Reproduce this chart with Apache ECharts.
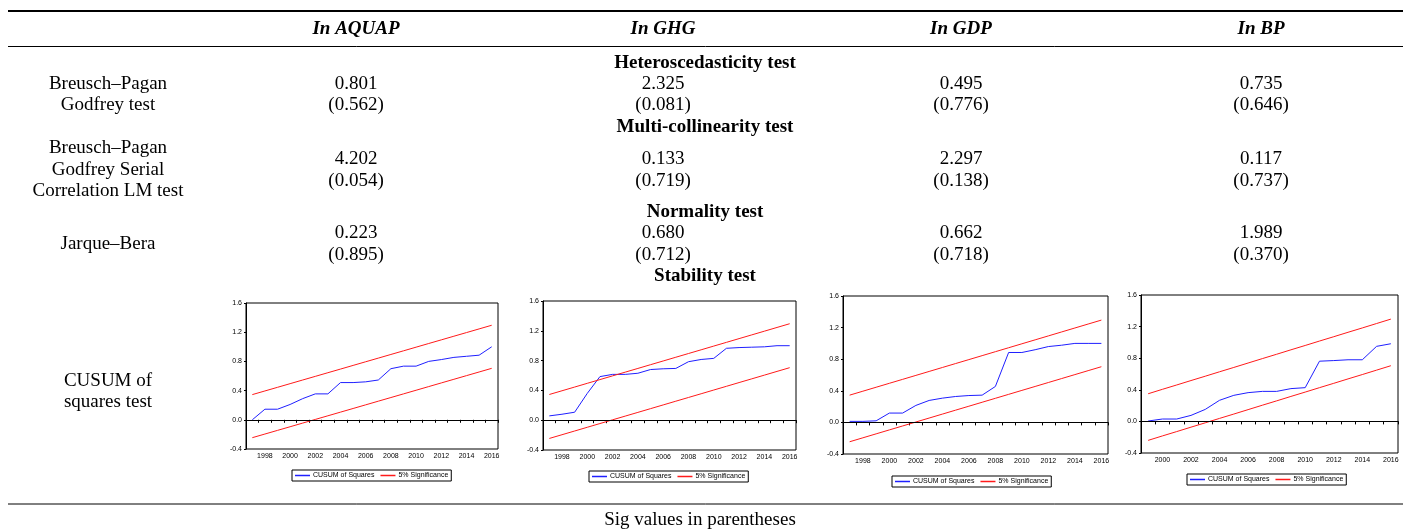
<!DOCTYPE html>
<html>
<head>
<meta charset="utf-8">
<script src="https://cdn.jsdelivr.net/npm/echarts@6/dist/echarts.min.js"></script>
<style>
  html, body { margin: 0; padding: 0; background: #fff; }
  #main { width: 1408px; height: 531px; }
</style>
</head>
<body>
<div id="main"></div>
<script>
// years on the x axis
const years97 = ['1997', '1998', '1999', '2000', '2001', '2002', '2003', '2004', '2005', '2006',
  '2007', '2008', '2009', '2010', '2011', '2012', '2013', '2014', '2015', '2016']
const years99 = ['1999', '2000', '2001', '2002', '2003', '2004', '2005', '2006', '2007', '2008',
  '2009', '2010', '2011', '2012', '2013', '2014', '2015', '2016']

// CUSUM of squares
const cusumAQUAP = [0.0, 0.145, 0.145, 0.21, 0.29, 0.355, 0.355, 0.51, 0.51, 0.52,
  0.545, 0.70, 0.735, 0.735, 0.80, 0.825, 0.855, 0.87, 0.885, 1.0]
const cusumGHG = [0.058, 0.08, 0.107, 0.36, 0.585, 0.615, 0.615, 0.63, 0.68, 0.69,
  0.695, 0.785, 0.815, 0.83, 0.965, 0.975, 0.98, 0.985, 1.0, 1.0]
const cusumGDP = [0.013, 0.013, 0.02, 0.118, 0.118, 0.215, 0.278, 0.307, 0.328, 0.34,
  0.345, 0.455, 0.885, 0.885, 0.92, 0.96, 0.977, 1.0, 1.0, 1.0]
const cusumBP = [0.005, 0.03, 0.03, 0.076, 0.152, 0.267, 0.33, 0.364, 0.38, 0.38,
  0.415, 0.427, 0.762, 0.77, 0.78, 0.78, 0.95, 0.983]

// 5% significance bands
const upper20 = [0.345, 0.395, 0.445, 0.495, 0.545, 0.595, 0.645, 0.695, 0.745, 0.795,
  0.845, 0.895, 0.945, 0.995, 1.045, 1.095, 1.145, 1.195, 1.245, 1.295]
const lower20 = [-0.245, -0.195, -0.145, -0.095, -0.045, 0.005, 0.055, 0.105, 0.155, 0.205,
  0.255, 0.305, 0.355, 0.405, 0.455, 0.505, 0.555, 0.605, 0.655, 0.705]
const upper18 = [0.35, 0.406, 0.461, 0.517, 0.572, 0.628, 0.683, 0.739, 0.795, 0.85,
  0.906, 0.961, 1.017, 1.072, 1.128, 1.183, 1.239, 1.295]
const lower18 = [-0.24, -0.184, -0.129, -0.073, -0.018, 0.038, 0.093, 0.149, 0.205, 0.26,
  0.316, 0.371, 0.427, 0.482, 0.538, 0.593, 0.649, 0.705]

// table text
const colNames = ['In AQUAP', 'In GHG', 'In GDP', 'In BP']
const heteroVals = ['0.801', '2.325', '0.495', '0.735']
const heteroSig = ['(0.562)', '(0.081)', '(0.776)', '(0.646)']
const serialVals = ['4.202', '0.133', '2.297', '0.117']
const serialSig = ['(0.054)', '(0.719)', '(0.138)', '(0.737)']
const normVals = ['0.223', '0.680', '0.662', '1.989']
const normSig = ['(0.895)', '(0.712)', '(0.718)', '(0.370)']

const colX = [356, 663, 961, 1261]
const SERIF = '"Liberation Serif", "Times New Roman", serif'
const SANS = '"Liberation Sans", Arial, sans-serif'

const boxes = [
  { left: 246, top: 303, width: 252, height: 146, legendLeft: 292, legendTop: 470 },
  { left: 543, top: 301, width: 253, height: 149, legendLeft: 589, legendTop: 471 },
  { left: 843, top: 296, width: 265, height: 158, legendLeft: 892, legendTop: 476 },
  { left: 1141, top: 295, width: 257, height: 158, legendLeft: 1187, legendTop: 474 }
]
const xData = [years97, years97, years97, years99]
const blueData = [cusumAQUAP, cusumGHG, cusumGDP, cusumBP]
const upData = [upper20, upper20, upper20, upper18]
const lowData = [lower20, lower20, lower20, lower18]

function txt(text, x, y, font, align) {
  return {
    type: 'text',
    x: x,
    y: y,
    style: {
      text: text,
      font: font,
      fill: '#000',
      textAlign: align || 'center',
      textVerticalAlign: 'middle'
    }
  }
}
function hline(x1, x2, y, w) {
  return {
    type: 'line',
    shape: { x1: x1, y1: y, x2: x2, y2: y },
    style: { stroke: '#000', lineWidth: w }
  }
}

const graphics = []
graphics.push(hline(8, 1403, 11, 2))
graphics.push(hline(8, 1403, 46.5, 1))
graphics.push(hline(8, 1403, 504, 1))

const F = '19px ' + SERIF
const FB = 'bold 19px ' + SERIF
colNames.forEach((n, i) => graphics.push(txt(n, colX[i], 29, 'italic bold 19px ' + SERIF)))

graphics.push(txt('Heteroscedasticity test', 705, 63, FB))
graphics.push(txt('Breusch\u2013Pagan', 108, 84, F))
graphics.push(txt('Godfrey test', 108, 105, F))
heteroVals.forEach((v, i) => graphics.push(txt(v, colX[i], 84, F)))
heteroSig.forEach((v, i) => graphics.push(txt(v, colX[i], 105, F)))

graphics.push(txt('Multi-collinearity test', 705, 127, FB))
graphics.push(txt('Breusch\u2013Pagan', 108, 148, F))
graphics.push(txt('Godfrey Serial', 108, 170, F))
graphics.push(txt('Correlation LM test', 108, 191, F))
serialVals.forEach((v, i) => graphics.push(txt(v, colX[i], 159, F)))
serialSig.forEach((v, i) => graphics.push(txt(v, colX[i], 181, F)))

graphics.push(txt('Normality test', 705, 212, FB))
graphics.push(txt('Jarque\u2013Bera', 108, 244, F))
normVals.forEach((v, i) => graphics.push(txt(v, colX[i], 233, F)))
normSig.forEach((v, i) => graphics.push(txt(v, colX[i], 255, F)))

graphics.push(txt('Stability test', 705, 276, FB))
graphics.push(txt('CUSUM of', 108, 381, F))
graphics.push(txt('squares test', 108, 402, F))

graphics.push(txt('Sig values in parentheses', 700, 520, F))

const grid = []
const xAxis = []
const yAxis = []
const legend = []
const series = []

boxes.forEach((b, i) => {
  grid.push({
    left: b.left, top: b.top, width: b.width, height: b.height,
    show: true, borderColor: '#000', borderWidth: 1, backgroundColor: '#fff'
  })
  xAxis.push({
    type: 'category',
    gridIndex: i,
    data: xData[i],
    boundaryGap: true,
    axisLine: { lineStyle: { color: '#000', width: 1 } },
    axisTick: { show: true, interval: 0, length: 3, inside: false, lineStyle: { color: '#000' } },
    axisLabel: {
      interval: (idx) => idx % 2 === 1,
      color: '#000',
      fontSize: 7,
      fontFamily: SANS,
      margin: 4
    },
    splitLine: { show: false }
  })
  yAxis.push({
    type: 'value',
    gridIndex: i,
    min: -0.4,
    max: 1.6,
    interval: 0.4,
    axisLine: { show: true, lineStyle: { color: '#000', width: 1 } },
    axisTick: { show: true, length: 2, lineStyle: { color: '#000' } },
    axisLabel: {
      color: '#000',
      fontSize: 7,
      fontFamily: SANS,
      margin: 4,
      formatter: (v) => v.toFixed(1)
    },
    splitLine: { show: false }
  })
  legend.push({
    left: b.legendLeft,
    top: b.legendTop,
    orient: 'horizontal',
    data: ['CUSUM of Squares', '5% Significance'],
    icon: 'rect',
    itemWidth: 15,
    itemHeight: 1.5,
    itemGap: 6,
    padding: [2, 3],
    borderColor: '#000',
    borderWidth: 1,
    selectedMode: false,
    textStyle: { fontSize: 7, fontFamily: SANS, color: '#000', padding: [0, 0, 0, -2] }
  })
  series.push({
    name: 'CUSUM of Squares',
    type: 'line',
    xAxisIndex: i,
    yAxisIndex: i,
    data: blueData[i],
    showSymbol: false,
    symbol: 'none',
    color: '#1f1fff',
    lineStyle: { color: '#1f1fff', width: 1 },
    z: 3,
    markLine: {
      silent: true,
      symbol: 'none',
      label: { show: false },
      lineStyle: { color: '#000', width: 1, type: 'solid' },
      data: [{ yAxis: 0 }]
    }
  })
  series.push({
    name: '5% Significance',
    type: 'line',
    xAxisIndex: i,
    yAxisIndex: i,
    data: upData[i],
    symbol: 'none',
    color: '#ff1a1a',
    lineStyle: { color: '#ff1a1a', width: 1 }
  })
  series.push({
    name: '5% Significance',
    type: 'line',
    xAxisIndex: i,
    yAxisIndex: i,
    data: lowData[i],
    symbol: 'none',
    color: '#ff1a1a',
    lineStyle: { color: '#ff1a1a', width: 1 }
  })
})

const myChart = echarts.init(document.getElementById('main'), null, { renderer: 'canvas' })
myChart.setOption({
  animation: false,
  backgroundColor: '#fff',
  grid: grid,
  xAxis: xAxis,
  yAxis: yAxis,
  legend: legend,
  series: series,
  graphic: { elements: graphics }
})
</script>
</body>
</html>
